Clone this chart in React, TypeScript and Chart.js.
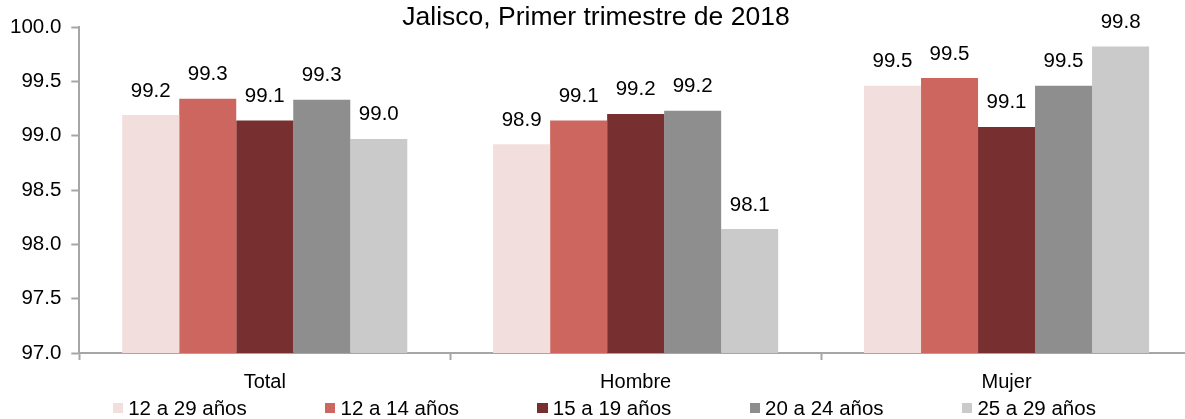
import React, { useEffect, useRef } from 'react';
import { Chart, registerables } from 'chart.js';

Chart.register(...registerables);

const FONT = '"Liberation Sans", Arial, sans-serif';

const titleText = 'Jalisco, Primer trimestre de 2018';
const categories = ['Total', 'Hombre', 'Mujer'];
const seriesLabels = ['12 a 29 años', '12 a 14 años', '15 a 19 años', '20 a 24 años', '25 a 29 años'];
const seriesColors = ['#F2DFDD', '#CC665F', '#772F2F', '#8E8E8E', '#CACACA'];

const s12a29 = [99.19, 98.92, 99.46];
const s12a14 = [99.34, 99.14, 99.53];
const s15a19 = [99.14, 99.2, 99.08];
const s20a24 = [99.33, 99.23, 99.46];
const s25a29 = [98.97, 98.14, 99.82];
const seriesValues = [s12a29, s12a14, s15a19, s20a24, s25a29];

const yMin = 97;
const yMax = 100;
const yStep = 0.5;

const AXIS = '#A6A6A6';

const valueLabels = {
  id: 'valueLabels',
  afterDatasetsDraw(chart: any) {
    const ctx = chart.ctx;
    ctx.save();
    ctx.font = `20.5px ${FONT}`;
    ctx.fillStyle = '#000';
    ctx.textAlign = 'center';
    ctx.textBaseline = 'alphabetic';
    chart.data.datasets.forEach((ds: any, i: number) => {
      const meta = chart.getDatasetMeta(i);
      meta.data.forEach((bar: any, j: number) => {
        ctx.fillText(Number(ds.data[j]).toFixed(1), bar.x, bar.y - 18.5);
      });
    });
    ctx.restore();
  },
};

export default function App() {
  const ref = useRef<HTMLCanvasElement | null>(null);

  useEffect(() => {
    if (!ref.current) return;
    const chart = new Chart(ref.current, {
      type: 'bar',
      data: {
        labels: categories,
        datasets: seriesValues.map((vals, i) => ({
          label: seriesLabels[i],
          data: vals,
          backgroundColor: seriesColors[i],
          borderWidth: 0,
          categoryPercentage: 0.7686,
          barPercentage: 1.0,
        })),
      },
      options: {
        responsive: false,
        animation: false,
        devicePixelRatio: 1,
        layout: { padding: { left: 0, right: 0, top: 0, bottom: 14 } },
        plugins: {
          legend: { display: false },
          tooltip: { enabled: false },
          title: {
            display: true,
            text: titleText,
            color: '#000',
            font: { family: FONT, size: 26.5, weight: 'normal', lineHeight: 1 },
            padding: { top: 4.5, bottom: -4 },
          },
        },
        scales: {
          x: {
            grid: {
              display: true,
              drawOnChartArea: false,
              offset: true,
              tickLength: 7,
              tickColor: AXIS,
              tickWidth: 2,
              color: AXIS,
            },
            border: { display: true, color: AXIS, width: 2 },
            ticks: { color: '#000', font: { family: FONT, size: 20 }, padding: 10.5 },
          },
          y: {
            min: yMin,
            max: yMax,
            grid: {
              display: true,
              drawOnChartArea: false,
              tickLength: 8,
              tickColor: AXIS,
              tickWidth: 2,
              color: AXIS,
            },
            border: { display: true, color: AXIS, width: 2 },
            ticks: {
              stepSize: yStep,
              color: '#000',
              padding: 10,
              font: { family: FONT, size: 20.5 },
              callback: (v: any) => Number(v).toFixed(1),
            },
          },
        },
      },
      plugins: [valueLabels],
    });
    return () => chart.destroy();
  }, []);

  return (
    <div
      style={{
        position: 'fixed',
        left: 0,
        top: 0,
        width: 1185,
        height: 419,
        overflow: 'hidden',
        background: '#fff',
      }}
    >
      <canvas
        ref={ref}
        width={1192}
        height={419}
        style={{ position: 'absolute', left: 0, top: 0, width: 1192, height: 419 }}
      />
      <div
        style={{
          position: 'absolute',
          left: 112.7,
          top: 397,
          height: 22,
          display: 'flex',
          alignItems: 'center',
          fontFamily: FONT,
          fontSize: 20.5,
          lineHeight: '22px',
          color: '#000',
          whiteSpace: 'nowrap',
        }}
      >
        {seriesLabels.map((lab, i) => (
          <div key={lab} style={{ width: 212.3, display: 'flex', alignItems: 'center' }}>
            <span
              style={{
                display: 'inline-block',
                width: 10.5,
                height: 10.5,
                background: seriesColors[i],
                marginRight: 5,
              }}
            />
            <span>{lab}</span>
          </div>
        ))}
      </div>
    </div>
  );
}
